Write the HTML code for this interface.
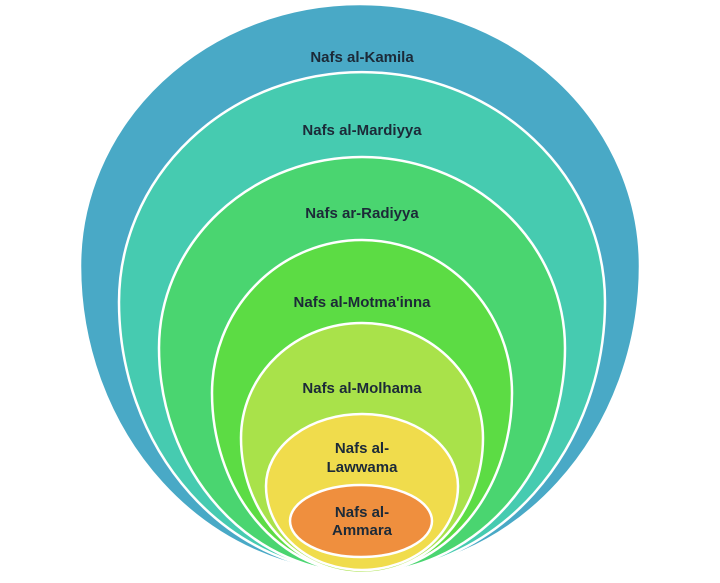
<!DOCTYPE html>
<html><head><meta charset="utf-8"><style>
html,body{margin:0;padding:0;background:#fff;}
svg{display:block;}
text{font-family:"Liberation Sans",sans-serif;font-weight:bold;font-size:15px;fill:#1c2a38;text-anchor:middle;}
</style></head><body>
<svg width="720" height="583" viewBox="0 0 720 583" xmlns="http://www.w3.org/2000/svg">
<g stroke="#fff" stroke-width="2.5">
<path d="M80,266 A280,262 0 0 1 640,266 A280,307 0 0 1 80,266 Z" fill="#49a9c6"/>
<path d="M119,302 A243,230 0 0 1 605,302 A243,271 0 0 1 119,302 Z" fill="#46cbb0"/>
<path d="M159,348 A203,191 0 0 1 565,348 A203,225 0 0 1 159,348 Z" fill="#4ad570"/>
<path d="M212,393 A150,153 0 0 1 512,393 A150,180 0 0 1 212,393 Z" fill="#5cdc44"/>
<path d="M241,438 A121,115 0 0 1 483,438 A121,135 0 0 1 241,438 Z" fill="#a9e24a"/>
<path d="M266,486 A96,72 0 0 1 458,486 A96,84 0 0 1 266,486 Z" fill="#f0dc4c"/>
<ellipse cx="361" cy="521" rx="71" ry="36" fill="#ef8f3e"/>
</g>
<text x="362" y="62">Nafs al-Kamila</text>
<text x="362" y="135">Nafs al-Mardiyya</text>
<text x="362" y="218">Nafs ar-Radiyya</text>
<text x="362" y="307">Nafs al-Motma'inna</text>
<text x="362" y="393">Nafs al-Molhama</text>
<text x="362" y="453">Nafs al-</text>
<text x="362" y="472">Lawwama</text>
<text x="362" y="517">Nafs al-</text>
<text x="362" y="535">Ammara</text>
</svg>
</body></html>
